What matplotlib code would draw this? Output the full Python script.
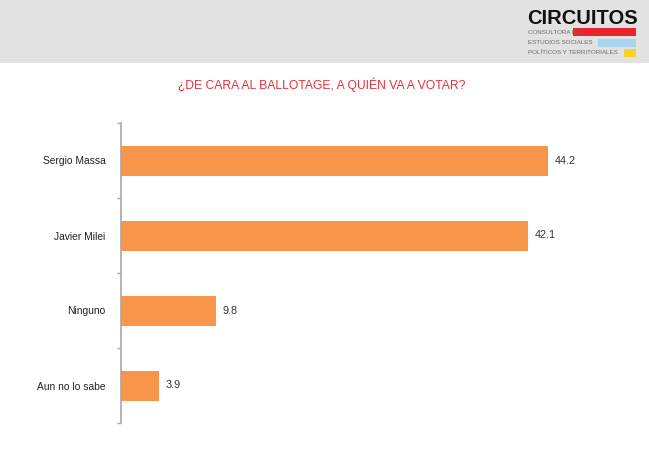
import matplotlib
matplotlib.use("Agg")
import matplotlib.pyplot as plt
from matplotlib.patches import Rectangle

categories = ["Sergio Massa", "Javier Milei", "Ninguno", "Aun no lo sabe"]
values = [44.2, 42.1, 9.8, 3.9]
value_labels = ["44.2", "42.1", "9.8", "3.9"]

title = "¿DE CARA AL BALLOTAGE, A QUIÉN VA A VOTAR?"

plt.rcParams["font.family"] = ["Liberation Sans", "DejaVu Sans"]

W, H = 649, 458
fig = plt.figure(figsize=(W / 100, H / 100), dpi=100)
fig.patch.set_facecolor("white")

# Gray header band with the logo block
fig.patches.append(Rectangle((0, 1 - 63 / H), 1, 63 / H, transform=fig.transFigure,
                             facecolor="#e2e2e2", edgecolor="none", zorder=0))
fig.text(582 / W, 1 - 18 / H, "CIRCUITOS", fontsize=14.5, fontweight="bold",
         color="#111111", ha="center", va="center")
logo_lines = ["CONSULTORA DE", "ESTUDIOS SOCIALES", "POLÍTICOS Y TERRITORIALES"]
logo_y = [32, 43, 53]
bar_spans = [(573, 636, "#e8242c"), (598, 636, "#a9d4ef"), (624, 636, "#f6d12a")]
for txt, yy, (x0, x1, col) in zip(logo_lines, logo_y, bar_spans):
    fig.patches.append(Rectangle((x0 / W, 1 - (yy + 4) / H), (x1 - x0) / W, 8 / H,
                                 transform=fig.transFigure, facecolor=col,
                                 edgecolor="none", zorder=1))
    fig.text(528 / W, 1 - yy / H, txt, fontsize=4.5, color="#6a6a6a",
             ha="left", va="center", zorder=2)

fig.text(322 / W, 1 - 85 / H, title, fontsize=8.7, color="#e0323c",
         ha="center", va="center")

ax = fig.add_axes([121 / W, 35 / H, 483 / W, 300 / H])
ypos = list(range(len(categories)))
ax.barh(ypos, values, height=0.4, color="#f7964a", edgecolor="none")
ax.set_ylim(len(categories) - 0.5, -0.5)
ax.set_xlim(0, 50)

for y, v, lab in zip(ypos, values, value_labels):
    ax.text(v + 0.7, y, lab, fontsize=7.8, color="#333333", ha="left", va="center")

ax.set_yticks(ypos)
ax.set_yticklabels(categories, fontsize=7.4, color="#222222")
ax.set_yticks([i - 0.5 for i in range(len(categories) + 1)], minor=True)
ax.tick_params(axis="y", which="major", length=0, pad=11)
ax.tick_params(axis="y", which="minor", length=3, width=1, color="#a8a8a8", direction="out")
ax.set_xticks([])
for side in ["top", "right", "bottom"]:
    ax.spines[side].set_visible(False)
ax.spines["left"].set_color("#a8a8a8")
ax.spines["left"].set_linewidth(1.2)
ax.set_facecolor("none")

fig.savefig("out.png", dpi=100)
